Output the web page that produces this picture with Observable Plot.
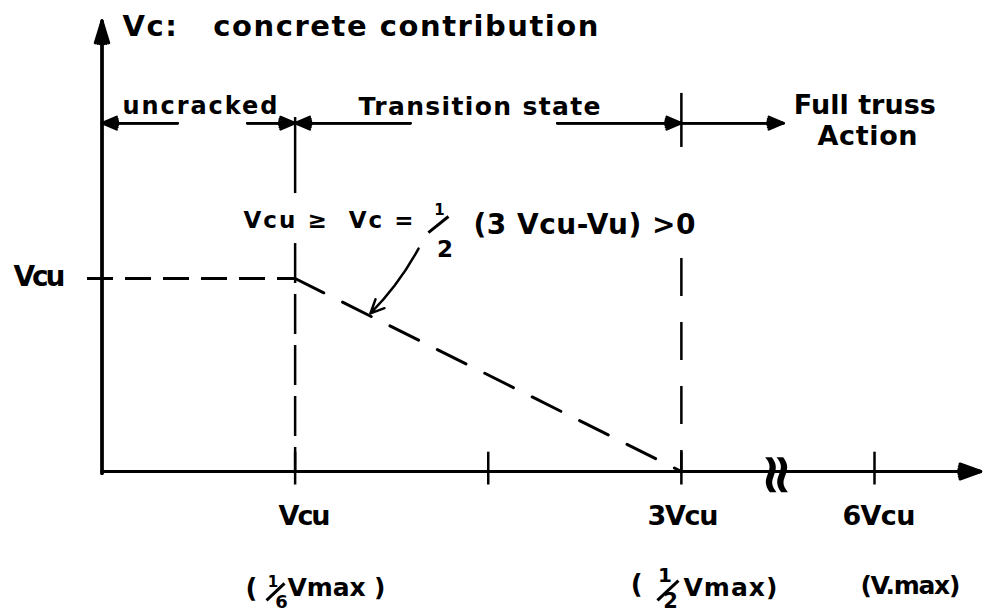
<!DOCTYPE html>
<html><head><meta charset="utf-8">
<script src="https://cdn.jsdelivr.net/npm/d3@7"></script>
<script src="https://cdn.jsdelivr.net/npm/@observablehq/plot@0.6"></script>
<style>html,body{margin:0;padding:0;background:#fff;} #chart{width:984px;height:615px;overflow:hidden;}</style>
</head><body><div id="chart"></div>
<script>
// ---------------- data (all in units of Vcu; x axis is broken after 3Vcu) ----------------
const xTickPositions = [1, 2, 3, 4];
const xTickLabels   = ["Vcu", "", "3Vcu", "6Vcu"];
const yTickPositions = [1];
const yTickLabels   = ["Vcu"];
const vcX = [1, 3];           // Vu where the concrete contribution line starts/ends
const vcY = [1, 0];           // Vc at those points
const stateBounds = [0, 1, 3];
const stateLabels = ["uncracked", "Transition state", "Full truss", "Action"];
const titleText = "Vc:\u00a0\u00a0\u00a0concrete contribution";
const formulaLeft = "Vcu \u2265\u00a0\u00a0Vc =";
const formulaRight = "(3 Vcu-Vu) >0";
const subLabels = ["Vmax )", "Vmax)", "(V.max)"];
const fracNum = ["1", "1"];
const fracDen = ["6", "2"];

// ---------------- drawing ----------------
const ink = "#000";
const font = "DejaVu Sans";
const fit = new Map();
function txt(t, x, y, size, width, opts = {}) {
  if (width) fit.set(t, width);
  return Plot.text([{x, y, t}], {
    x: "x", y: "y", text: "t", fontSize: size, fontFamily: font, fontWeight: "bold",
    fill: ink, textAnchor: "middle", lineAnchor: "middle", ...opts
  });
}
function seg(x1, y1, x2, y2, w = 2.5) {
  return Plot.link([{x1, y1, x2, y2}], {x1: "x1", y1: "y1", x2: "x2", y2: "y2", stroke: ink, strokeWidth: w});
}
function filledArrow(data, opts, angles) {
  return angles.map(a => Plot.arrow(data, {...opts, headAngle: a}));
}

const topY = 1.805;
const topArrows = [
  {x1: 0.391, x2: stateBounds[0]},
  {x1: 0.753, x2: stateBounds[1]},
  {x1: 1.597, x2: stateBounds[1]},
  {x1: 2.358, x2: stateBounds[2]},
  {x1: stateBounds[2], x2: 3.529}
].map(d => ({...d, y1: topY, y2: topY}));

const chart = Plot.plot({
  width: 984, height: 615, margin: 0,
  x: {domain: [0, 4], range: [101.5, 874], axis: null},
  y: {domain: [0, 1], range: [471, 278], axis: null},
  style: {background: "#fff", color: ink},
  marks: [
    // axes
    ...filledArrow([{x1: 0, y1: -0.01, x2: 0, y2: 2.335}], {x1: "x1", y1: "y1", x2: "x2", y2: "y2", stroke: ink, strokeWidth: 3, headLength: 11.5}, [34, 22, 10]),
    ...filledArrow([{x1: 0, y1: 0, x2: 4.55, y2: 0}], {x1: "x1", y1: "y1", x2: "x2", y2: "y2", stroke: ink, strokeWidth: 3, headLength: 11}, [40, 26, 12]),
    Plot.ruleX(xTickPositions, {y1: -0.07, y2: 0.1, stroke: ink, strokeWidth: 2.5}),
    // axis break
    txt("\u2248", 3.497, -0.016, 56, null, {rotate: 90}),
    // Vcu level dashed
    Plot.ruleY(yTickPositions, {x1: -0.075, x2: 1, stroke: ink, strokeWidth: 3, strokeDasharray: "26,12"}),
    // state boundaries
    Plot.ruleX([stateBounds[1]], {y1: 1.181, y2: 0, stroke: ink, strokeWidth: 2.5, strokeDasharray: "40,11"}),
    Plot.ruleX([stateBounds[2]], {y1: 1.104, y2: 0, stroke: ink, strokeWidth: 2.5, strokeDasharray: "38,26"}),
    Plot.ruleX([stateBounds[1]], {y1: 1.44, y2: 1.834, stroke: ink, strokeWidth: 2.5}),
    Plot.ruleX([stateBounds[2]], {y1: 1.679, y2: 1.959, stroke: ink, strokeWidth: 2.5}),
    // concrete contribution line
    Plot.line(vcX.map((x, i) => ({x, y: vcY[i]})), {x: "x", y: "y", stroke: ink, strokeWidth: 3, strokeDasharray: "32,21"}),
    // state arrows
    ...filledArrow(topArrows, {x1: "x1", y1: "y1", x2: "x2", y2: "y2", stroke: ink, strokeWidth: 2.5, headLength: 9.6}, [46, 30, 14]),
    // annotation arrow
    Plot.arrow([{x1: 1.639, y1: 1.155, x2: 1.39, y2: 0.819}], {x1: "x1", y1: "y1", x2: "x2", y2: "y2", stroke: ink, strokeWidth: 2.5, headLength: 9, headAngle: 50, bend: 8}),
    // texts
    txt(titleText, 0.106, 2.306, 29, 476, {textAnchor: "start"}),
    txt(stateLabels[0], 0.507, 1.891, 24, 155),
    txt(stateLabels[1], 1.955, 1.891, 25, 242),
    txt(stateLabels[2], 3.95, 1.896, 27, 142),
    txt(stateLabels[3], 3.964, 1.736, 27, 100),
    // formula
    txt(formulaLeft, 1.173, 1.298, 23, 170),
    txt(fracNum[1], 1.748, 1.352, 15, null),
    seg(1.690, 1.238, 1.794, 1.321, 3),
    txt(fracDen[1], 1.776, 1.150, 23, null),
    txt(formulaRight, 2.498, 1.277, 28, 222),
    // tick labels
    txt(yTickLabels[0], -0.324, 1.008, 28, 53),
    txt(xTickLabels[0], 1.049, -0.233, 27, 52),
    txt(xTickLabels[2], 3.008, -0.233, 27, 71),
    txt(xTickLabels[3], 4.023, -0.233, 27, 73),
    // (1/6 Vmax)
    txt("(", 0.774, -0.605, 26, null),
    txt(fracNum[0], 0.885, -0.575, 15, null),
    seg(0.852, -0.668, 0.945, -0.580, 3),
    txt(fracDen[0], 0.929, -0.676, 18, null),
    txt(subLabels[0], 1.214, -0.605, 25, 98),
    // (1/2 Vmax)
    txt("(", 2.768, -0.588, 26, null),
    txt(fracNum[1], 2.915, -0.539, 20, null),
    seg(2.876, -0.668, 2.985, -0.565, 3),
    txt(fracDen[1], 2.944, -0.672, 21, null),
    txt(subLabels[1], 3.254, -0.605, 25, 94),
    // (V.max)
    txt(subLabels[2], 4.186, -0.591, 25, 100)
  ]
});
document.getElementById("chart").appendChild(chart);
d3.select(chart).selectAll("text").each(function () {
  const w = fit.get(this.textContent);
  if (w) d3.select(this).attr("textLength", w).attr("lengthAdjust", "spacing");
});
</script></body></html>
